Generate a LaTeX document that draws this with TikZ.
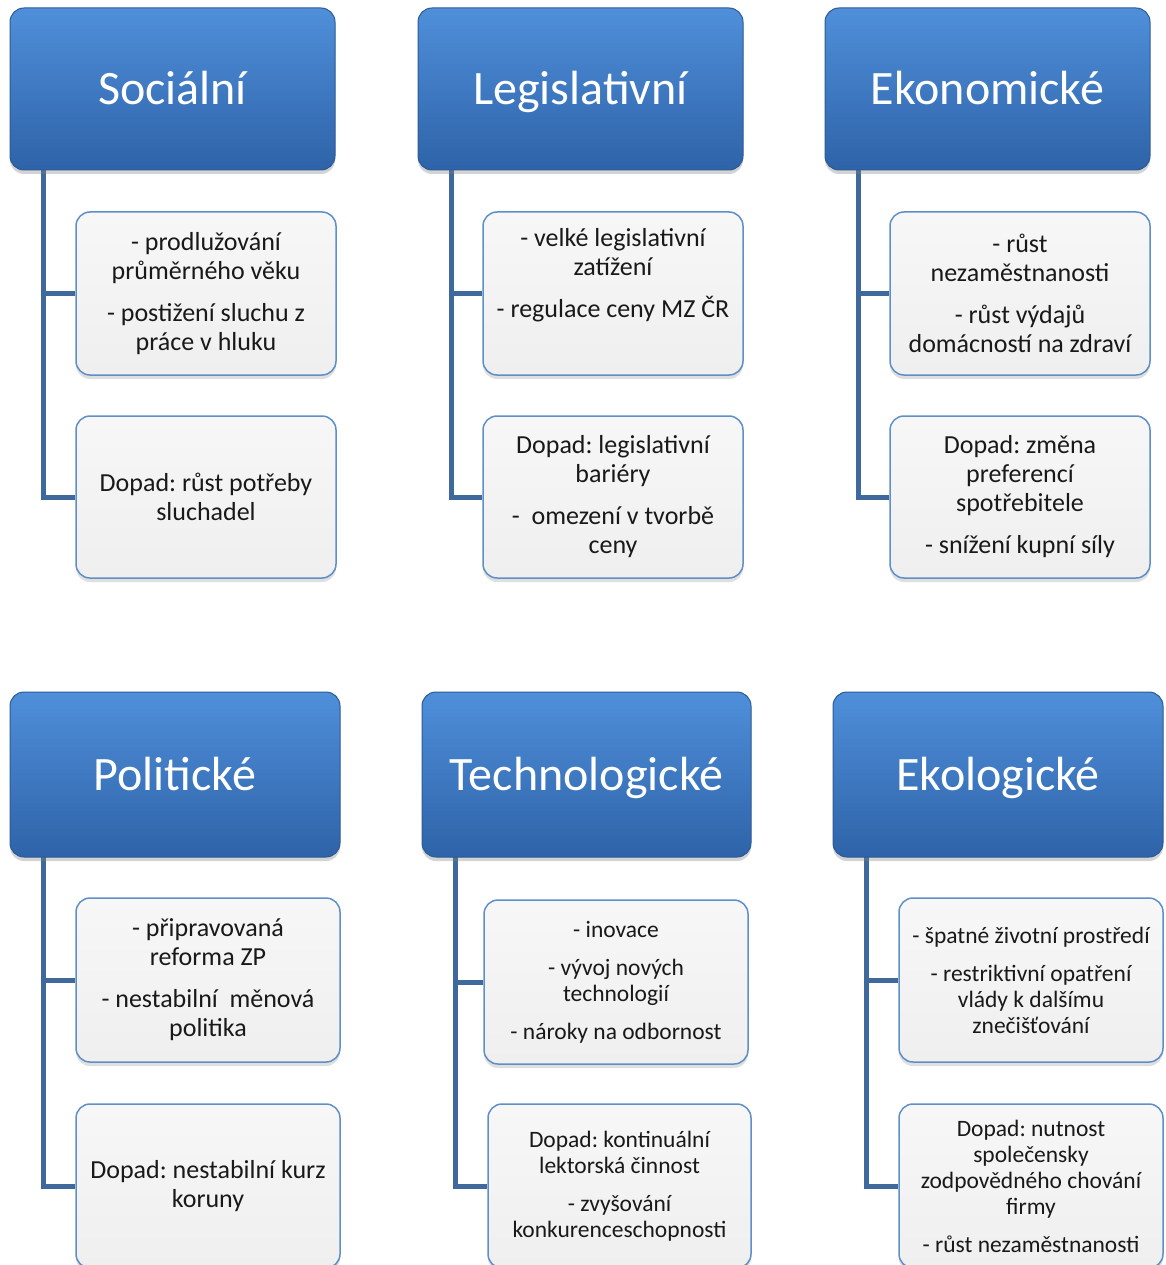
\documentclass[tikz,border=0pt]{standalone}
\usepackage{fontspec}
\setmainfont{Carlito}
\frenchspacing
\usetikzlibrary{shadows}
\definecolor{hdrtop}{HTML}{4F8FDA}
\definecolor{hdrbot}{HTML}{2E63A8}
\definecolor{hdrline}{HTML}{2B5A96}
\definecolor{boxline}{HTML}{5E8FC8}
\definecolor{boxtop}{HTML}{F7F7F7}
\definecolor{boxbot}{HTML}{EFEFEF}
\definecolor{conncol}{HTML}{3F699D}
\begin{document}
\begin{tikzpicture}[x=1pt,y=-1pt,
  hdr/.style={rectangle, rounded corners=14pt, top color=hdrtop, bottom color=hdrbot,
    draw=hdrline, line width=1pt, text=white, font=\fontsize{48}{56}\selectfont,
    inner sep=0pt, text height=36pt, text depth=4pt,
    drop shadow={shadow xshift=0pt, shadow yshift=-4pt, opacity=0.35}},
  kid/.style={rectangle, rounded corners=14pt, top color=boxtop, bottom color=boxbot,
    draw=boxline, line width=1.5pt, text=black!90, align=center, inner sep=0pt,
    font=\fontsize{26}{29}\selectfont,
    drop shadow={shadow xshift=0pt, shadow yshift=-4pt, opacity=0.25}},
  kidsm/.style={kid, font=\fontsize{23.5}{26}\selectfont},
  conn/.style={draw=conncol, line width=5pt}
]
\useasboundingbox (0,0) rectangle (1165,1265);
\clip (0,0) rectangle (1165,1265);

% connector starting points (under the headers)
\coordinate (vS) at (43,170);
\coordinate (vL) at (451,170);
\coordinate (vE) at (858,170);
\coordinate (vP) at (43,857);
\coordinate (vT) at (455,857);
\coordinate (vK) at (866,857);

% ---------- row 1 children ----------
\node[kid, minimum width=260pt, minimum height=163pt] (s1) at (206,293.5)
  {- prodlužování\\ průměrného věku\\[13pt] - postižení sluchu z\\ práce v hluku};
\node[kid, minimum width=260pt, minimum height=162pt] (s2) at (206,497)
  {Dopad: růst potřeby\\ sluchadel};
\node[kid, minimum width=260pt, minimum height=163pt] (l1) at (613,293.5)
  {- velké legislativní\\ zatížení\\[13pt] - regulace ceny MZ ČR\\[13pt]\mbox{}};
\node[kid, minimum width=260pt, minimum height=162pt] (l2) at (613,497)
  {Dopad: legislativní\\ bariéry\\[13pt] -~ omezení v tvorbě\\ ceny};
\node[kid, minimum width=260pt, minimum height=163pt] (e1) at (1020,293.5)
  {- růst\\ nezaměstnanosti\\[13pt] - růst výdajů\\ domácností na zdraví};
\node[kid, minimum width=260pt, minimum height=162pt] (e2) at (1020,497)
  {Dopad: změna\\ preferencí\\ spotřebitele\\[13pt] - snížení kupní síly};

% ---------- row 2 children ----------
\node[kid, minimum width=264pt, minimum height=164pt] (p1) at (208,980)
  {- připravovaná\\ reforma ZP\\[13pt] - nestabilní~ měnová\\ politika};
\node[kid, minimum width=264pt, minimum height=164pt] (p2) at (208,1186)
  {Dopad: nestabilní kurz\\ koruny};
\node[kidsm, minimum width=264pt, minimum height=164pt] (t1) at (616,982)
  {- inovace\\[12pt] - vývoj nových\\ technologií\\[12pt] - nároky na odbornost};
\node[kidsm, minimum width=263pt, minimum height=164pt] (t2) at (619.5,1186)
  {Dopad: kontinuální\\ lektorská činnost\\[12pt] - zvyšování\\ konkurenceschopnosti};
\node[kidsm, minimum width=264pt, minimum height=164pt] (k1) at (1031,980)
  {- špatné životní prostředí\\[12pt] - restriktivní opatření\\ vlády k dalšímu\\ znečišťování};
\node[kidsm, minimum width=264pt, minimum height=164pt] (k2) at (1031,1186)
  {Dopad: nutnost\\ společensky\\ zodpovědného chování\\ firmy\\[12pt] - růst nezaměstnanosti};

% connectors
\draw[conn] (vS) |- (s1.west);
\draw[conn] (vS) |- (s2.west);
\draw[conn] (vL) |- (l1.west);
\draw[conn] (vL) |- (l2.west);
\draw[conn] (vE) |- (e1.west);
\draw[conn] (vE) |- (e2.west);
\draw[conn] (vP) |- (p1.west);
\draw[conn] (vP) |- (p2.west);
\draw[conn] (vT) |- (t1.west);
\draw[conn] (vT) |- (t2.west);
\draw[conn] (vK) |- (k1.west);
\draw[conn] (vK) |- (k2.west);

% headers
\node[hdr, minimum width=325pt, minimum height=162pt] (hS) at (172.5,89) {Sociální};
\node[hdr, minimum width=325pt, minimum height=162pt] (hL) at (580.5,89) {Legislativní};
\node[hdr, minimum width=325pt, minimum height=162pt] (hE) at (987.5,89) {Ekonomické};
\node[hdr, minimum width=330pt, minimum height=165pt] (hP) at (175,774.5) {Politické};
\node[hdr, minimum width=329pt, minimum height=165pt] (hT) at (586.5,774.5) {Technologické};
\node[hdr, minimum width=330pt, minimum height=165pt] (hK) at (998,774.5) {Ekologické};
\end{tikzpicture}
\end{document}
